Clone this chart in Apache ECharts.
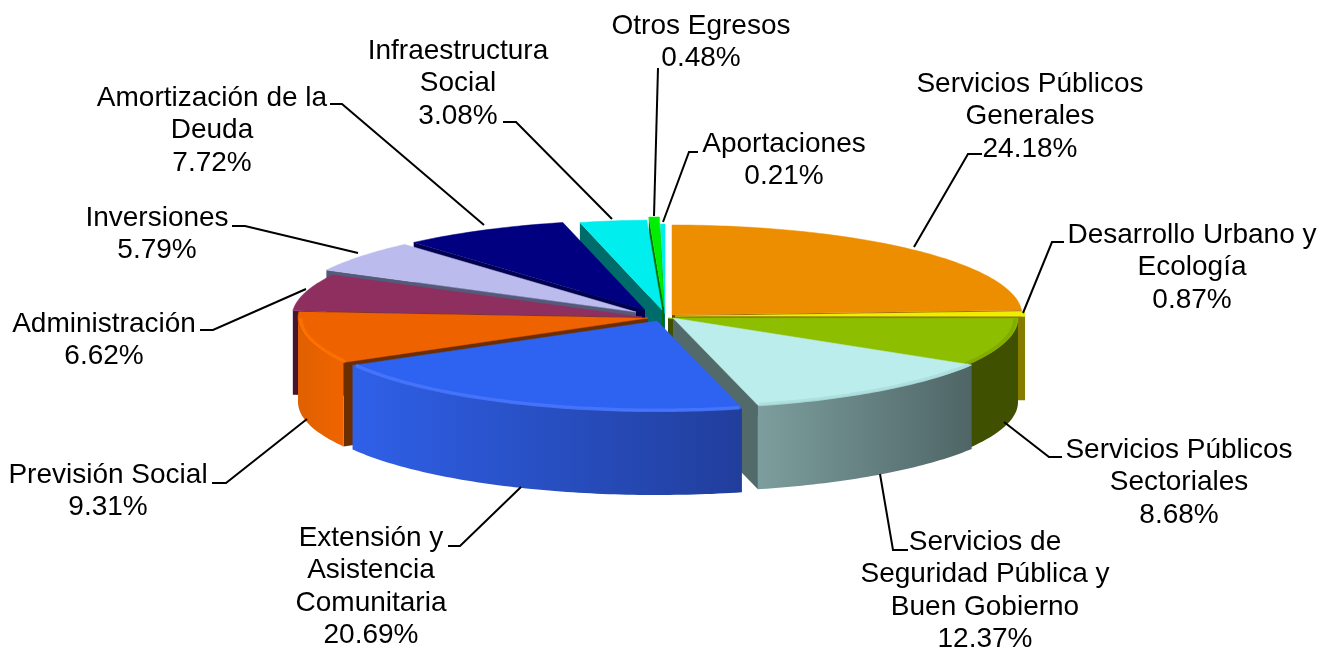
<!DOCTYPE html>
<html>
<head>
<meta charset="utf-8">
<title>Egresos</title>
<style>html,body{margin:0;padding:0;background:#fff}#chart{width:1318px;height:648px}</style>
<script src="https://cdn.jsdelivr.net/npm/echarts@6/dist/echarts.min.js"></script>
</head>
<body>
<div id="chart"></div>
<script>
// slices clockwise from 12 o'clock
var names = ['Servicios Públicos\nGenerales', 'Desarrollo Urbano y\nEcología', 'Servicios Públicos\nSectoriales',
  'Servicios de\nSeguridad Pública y\nBuen Gobierno', 'Extensión y\nAsistencia\nComunitaria', 'Previsión Social',
  'Administración', 'Inversiones', 'Amortización de la\nDeuda', 'Infraestructura\nSocial', 'Otros Egresos', 'Aportaciones'];
var shares = [24.18, 0.87, 8.68, 12.37, 20.69, 9.31, 6.62, 5.79, 7.72, 3.08, 0.48, 0.21];

// styles
var topColors = ['#EC8E00', '#F0EE00', '#8EBE00', '#BBEDED', '#2E62F0', '#EE6200', '#8E2F60', '#BBBBEE', '#000080', '#00EEEE', '#00EE00', '#00EEEE'];
var faceColors = ['#6B4000', '#857C00', '#3F5000', '#536A6B', '#1F3A90', '#6B2E00', '#451530', '#555A78', '#00004F', '#006B6B', '#007000', '#006B6B'];
var wallFrom = ['#6B4000', '#857C00', '#3F5000', '#7D9E9E', '#2F60E8', '#E06000', '#451530', '#555A78', '#00004F', '#006B6B', '#007000', '#006B6B'];
var wallTo = ['#6B4000', '#857C00', '#3F5000', '#4F6566', '#213E9C', '#F06400', '#451530', '#555A78', '#00004F', '#006B6B', '#007000', '#006B6B'];
var rimColors = [null, null, '#7FA800', '#ABDCDC', '#4A78FF', '#FF7400', null, null, null, null, null, null];

// layout: tip of every exploded slice, paint order back to front
var apexX = [672, 675, 668, 673, 657, 648, 642, 636, 645, 662, 664, 665];
var apexY = [315, 316, 318, 318, 321, 318, 317, 312, 310, 310, 307, 314];
var paintOrder = [11, 10, 9, 8, 7, 6, 0, 1, 2, 5, 3, 4];
var rx = 350, ry = 90, depth = 84;

// label centre x, first line centre y
var labelX = [1030, 1192, 1179, 985, 371, 108, 104, 157, 212, 458, 701, 784];
var labelY = [82, 233, 448, 540, 536, 473, 322, 216, 96, 49, 24, 142];
var leaders = [
  [[982, 154], [968, 154], [914, 247]],
  [[1064, 242], [1052, 242], [1023, 313]],
  [[1062, 457], [1049, 457], [1004, 422]],
  [[908, 550], [893, 550], [880, 474]],
  [[448, 546], [460, 546], [521, 487]],
  [[212, 483], [226, 483], [307, 419]],
  [[200, 330], [213, 330], [306, 289]],
  [[232, 226], [245, 226], [358, 253]],
  [[330, 104], [342, 104], [484, 225]],
  [[503, 122], [516, 122], [612, 219]],
  [[658, 68], [654, 216]],
  [[698, 152], [689, 152], [663, 222]]
];

var total = shares.reduce(function (a, b) { return a + b; }, 0);
var starts = [];
shares.reduce(function (acc, v, i) { starts[i] = acc; return acc + v; }, 0);

function rad(i) { return starts[i] / total * 360; }
function pt(i, deg, k) {
  var t = deg * Math.PI / 180;
  return [apexX[i] + rx * (k || 1) * Math.sin(t), apexY[i] - ry * (k || 1) * Math.cos(t)];
}
function arc(i, a, b, k) {
  var out = [];
  for (var d = a; d < b; d += 1) out.push(pt(i, d, k));
  out.push(pt(i, b, k));
  return out;
}
function down(p) { return [p[0], p[1] + depth]; }

function renderSlice(params) {
  var i = params.dataIndex;
  var a = rad(i), b = a + shares[i] / total * 360;
  var z = paintOrder.indexOf(i) * 10;
  var apex = [apexX[i], apexY[i]];
  var children = [];

  // cut faces that look towards the viewer
  function face(deg) {
    var p = pt(i, deg);
    children.push({
      type: 'polygon', z2: z,
      shape: { points: [apex, p, down(p), down(apex)] },
      style: { fill: faceColors[i] }
    });
  }
  if (Math.sin(a * Math.PI / 180) < 0) face(a);
  if (Math.sin(b * Math.PI / 180) > 0) face(b);

  // outer wall, front half only
  var wa = Math.max(a, 90), wb = Math.min(b, 270);
  if (wb > wa) {
    var edge = arc(i, wa, wb);
    children.push({
      type: 'polygon', z2: z + 1,
      shape: { points: edge.concat(edge.slice().reverse().map(down)) },
      style: {
        fill: new echarts.graphic.LinearGradient(0, 0, 1, 0, [
          { offset: 0, color: wallFrom[i] },
          { offset: 1, color: wallTo[i] }
        ])
      }
    });
  }

  // top
  children.push({
    type: 'polygon', z2: z + 2,
    shape: { points: [apex].concat(arc(i, a, b)) },
    style: { fill: topColors[i], stroke: topColors[i], lineWidth: 0.5 }
  });

  // soft bevel along the front rim
  if (rimColors[i] && wb > wa) {
    children.push({
      type: 'polyline', z2: z + 3,
      shape: { points: arc(i, wa + 0.3, wb - 0.3, 0.992) },
      style: { fill: null, stroke: rimColors[i], lineWidth: 3.5, opacity: 0.8 }
    });
  }
  return { type: 'group', children: children };
}

var graphics = [];
names.forEach(function (name, i) {
  graphics.push({
    type: 'polyline', z: 10,
    shape: { points: leaders[i] },
    style: { fill: null, stroke: '#000', lineWidth: 2 }
  });
  graphics.push({
    type: 'text', z: 11,
    x: labelX[i], y: labelY[i] - 14,
    style: {
      text: name + '\n' + shares[i].toFixed(2) + '%',
      align: 'center', verticalAlign: 'top',
      fill: '#000', font: '28px "Liberation Sans", Arial, sans-serif',
      lineHeight: 32.4
    }
  });
});

var chart = echarts.init(document.getElementById('chart'), null, { renderer: 'canvas' });
chart.setOption({
  animation: false,
  backgroundColor: '#fff',
  graphic: { elements: graphics },
  series: [{
    type: 'custom',
    coordinateSystem: 'none',
    silent: true,
    renderItem: renderSlice,
    data: shares
  }]
});
</script>
</body>
</html>
